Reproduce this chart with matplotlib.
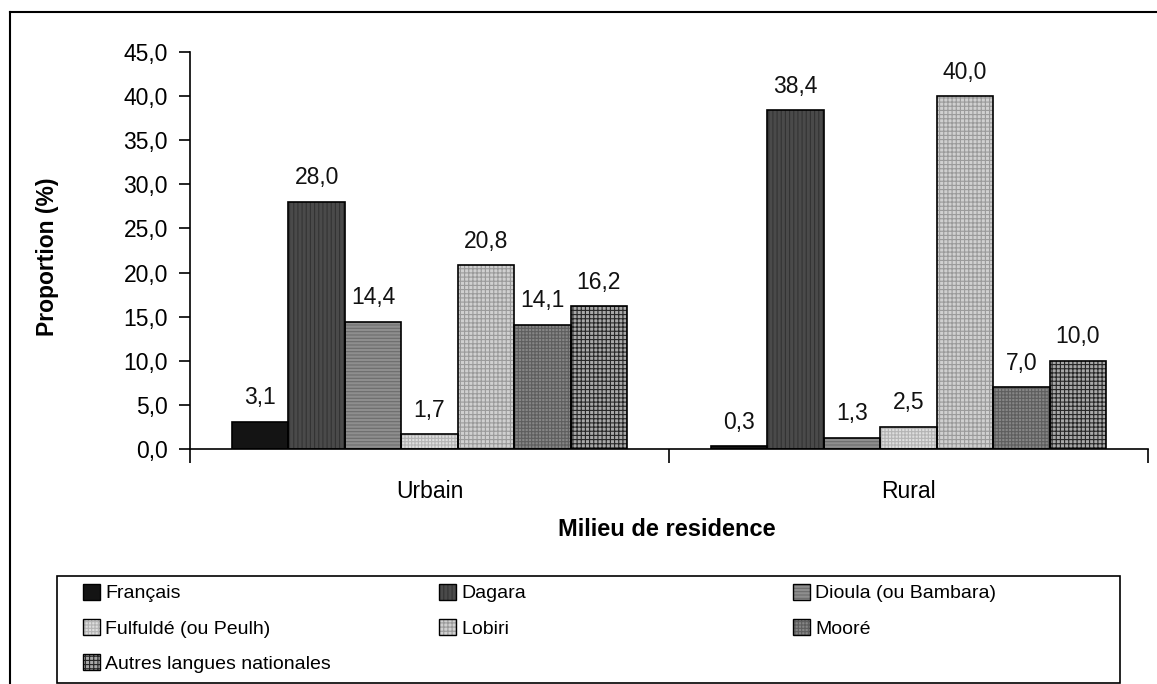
import matplotlib
matplotlib.use("Agg")
import matplotlib.pyplot as plt
from matplotlib.patches import Patch, Rectangle
from matplotlib.lines import Line2D
import numpy as np

# ---- data ----
categories = ["Urbain", "Rural"]
languages = ["Français", "Dagara", "Dioula (ou Bambara)", "Fulfuldé (ou Peulh)",
             "Lobiri", "Mooré", "Autres langues nationales"]
urbain = [3.1, 28.0, 14.4, 1.7, 20.8, 14.1, 16.2]
rural = [0.3, 38.4, 1.3, 2.5, 40.0, 7.0, 10.0]
yticks = [0, 5, 10, 15, 20, 25, 30, 35, 40, 45]

# ---- styles ----
faces = ["#141414", "#4a4a4a", "#8e8e8e", "#dedede", "#d0d0d0", "#868686", "#a8a8a8"]
hatches = [None, "||||", "-----", "+++++", "++++", "+++++", "++++"]
hcolors = ["#141414", "#333333", "#6c6c6c", "#b4b4b4", "#9a9a9a", "#5e5e5e", "#262626"]

plt.rcParams["font.family"] = ["Liberation Sans", "DejaVu Sans"]
plt.rcParams["hatch.linewidth"] = 0.8

W, H = 1157, 684
fig = plt.figure(figsize=(W / 100, H / 100), dpi=100)
ax = fig.add_axes([190 / W, 1 - 449 / H, (1148 - 190) / W, (449 - 52) / H])

values = np.array([urbain, rural])
x = np.arange(len(categories))
n = len(languages)
group_w = 0.825
bw = group_w / n

def fmt(v):
    return f"{v:.1f}".replace(".", ",")

for i in range(n):
    pos = x - group_w / 2 + bw * (i + 0.5)
    ax.bar(pos, values[:, i], width=bw, color=faces[i], hatch=hatches[i],
           edgecolor=hcolors[i], linewidth=0, zorder=2)
    outl = ax.bar(pos, values[:, i], width=bw, fill=False, edgecolor="black",
                  linewidth=1.2, zorder=3)
    ax.bar_label(outl, labels=[fmt(v) for v in values[:, i]], padding=9,
                 fontsize=16.5, color="#111111")

ax.set_xlim(-0.5, 1.5)
ax.set_ylim(0, 45)
ax.set_yticks(yticks)
ax.set_yticklabels([fmt(v) for v in yticks], fontsize=16.5)
ax.tick_params(axis="y", direction="out", length=8, width=1.2, pad=8)

ax.set_xticks(x)
ax.set_xticklabels(categories, fontsize=16.5)
ax.tick_params(axis="x", which="major", length=0, pad=22)
ax.set_xticks([-0.5, 0.5, 1.5], minor=True)
ax.tick_params(axis="x", which="minor", direction="out", length=10, width=1.2)

for s in ["top", "right"]:
    ax.spines[s].set_visible(False)
for s in ["left", "bottom"]:
    ax.spines[s].set_linewidth(1.2)

fig.text(48 / W, 1 - 257 / H, "Proportion (%)", rotation=90, ha="center",
         va="center", fontsize=16.5, fontweight="bold")
fig.text(667 / W, 1 - 530 / H, "Milieu de residence", ha="center", va="center",
         fontsize=17, fontweight="bold")

# outer frame
fig.add_artist(Line2D([10 / W, 10 / W], [0, 1 - 12 / H], transform=fig.transFigure,
                      color="black", lw=1.5))
fig.add_artist(Line2D([10 / W, 1], [1 - 12 / H, 1 - 12 / H], transform=fig.transFigure,
                      color="black", lw=1.5))

# legend box
fig.add_artist(Rectangle((57 / W, 1 - 683 / H), (1120 - 57) / W, (683 - 576) / H,
                         transform=fig.transFigure, fill=False, edgecolor="black", lw=1.2))

def handle(i):
    return (Patch(facecolor=faces[i], hatch=hatches[i], edgecolor=hcolors[i], lw=0),
            Patch(fill=False, edgecolor="black", lw=1))

columns = [[0, 3, 6], [1, 4], [2, 5]]
col_x = [83, 439, 793]
for cols, cx in zip(columns, col_x):
    fig.legend([handle(i) for i in cols], [languages[i] for i in cols],
               loc="upper left", bbox_to_anchor=(cx / W, 1 - 584 / H),
               bbox_transform=fig.transFigure, frameon=False, borderpad=0,
               borderaxespad=0, fontsize=14, handlelength=0.85, handleheight=0.85,
               handletextpad=0.3, labelspacing=0.85)

fig.savefig("out.png", dpi=100)
